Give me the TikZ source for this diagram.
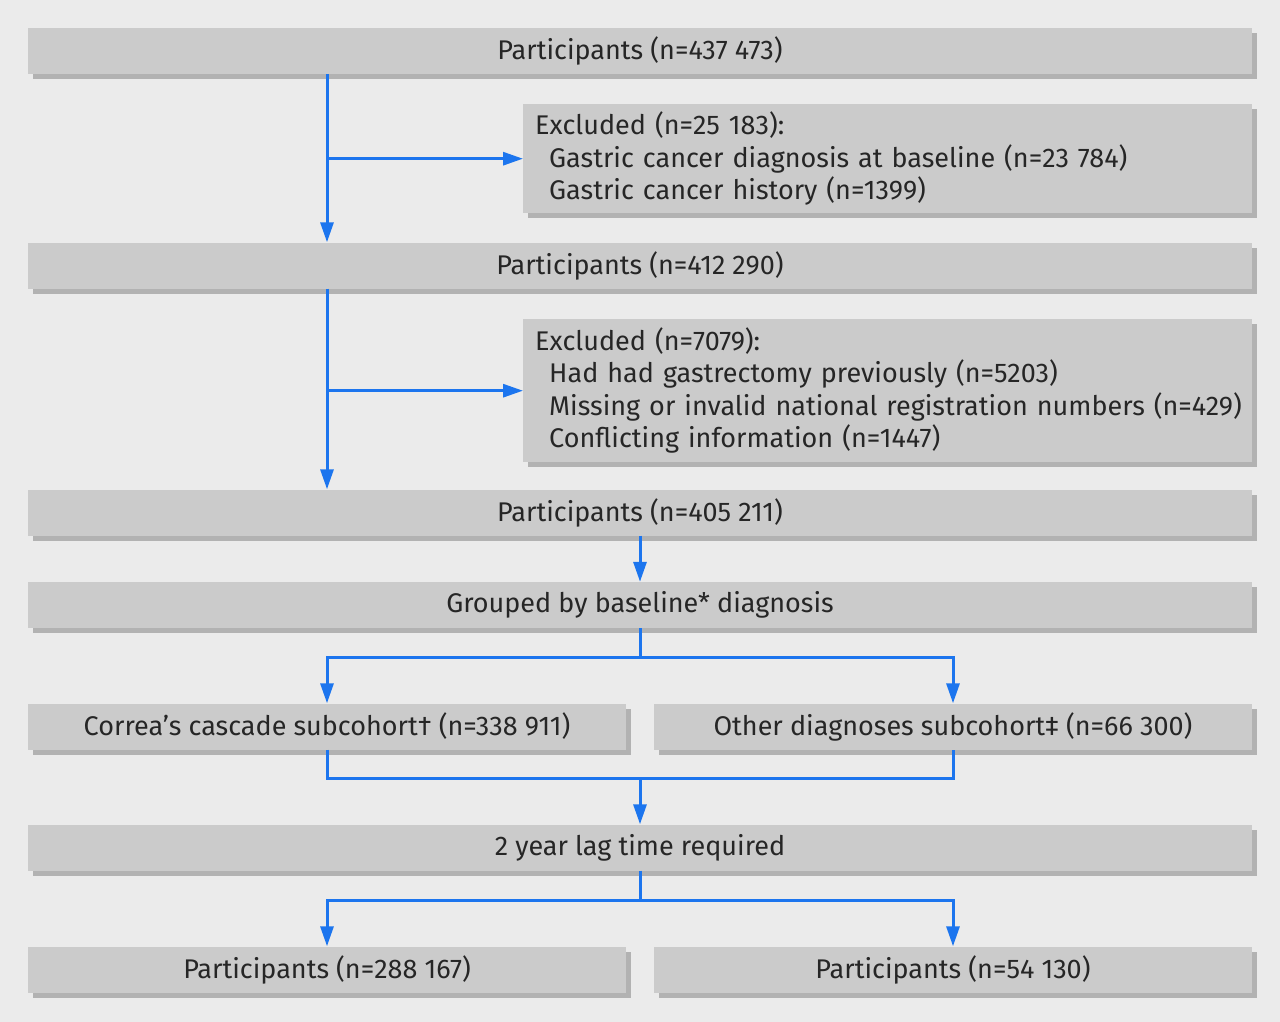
\documentclass[tikz,border=0pt]{standalone}
\usepackage{fontspec}
\setmainfont{Fira Sans}
\usetikzlibrary{arrows.meta,shadows,positioning}
\definecolor{bggray}{HTML}{EBEBEB}
\definecolor{boxgray}{HTML}{CBCBCB}
\definecolor{shgray}{HTML}{B2B2B2}
\definecolor{flowblue}{RGB}{28,117,238}
\tikzset{
  box/.style={fill=boxgray, minimum height=46pt, inner sep=0pt, text=black!85,
    font=\fontsize{27}{32.5}\selectfont,
    drop shadow={shadow xshift=5pt, shadow yshift=-5pt, fill=shgray, opacity=1}},
  wide/.style={box, minimum width=1224pt},
  half/.style={box, minimum width=598pt},
  exbox/.style={box, anchor=north west, minimum width=729pt, text width=711pt, inner xsep=9pt, align=left},
  ln/.style={draw=flowblue, line width=3pt},
  arr/.style={ln, -{Triangle[length=20pt,width=13pt]}}
}
\newcommand{\ind}{\hspace*{17pt}}
\begin{document}
\begin{tikzpicture}[x=1pt,y=-1pt]
\fill[bggray] (0,0) rectangle (1280,1022);
\useasboundingbox (0,0) rectangle (1280,1022);
% boxes
\node[wide] (p1) at (640,51) {Participants (n=437 473)};
\node[exbox, minimum height=109pt] (ex1) at (523,104) {\hspace*{3pt}Excluded (n=25 183):\\
  \ind Gastric cancer diagnosis at baseline (n=23 784)\\
  \ind Gastric cancer history (n=1399)};
\node[wide] (p2) at (640,265.5) {Participants (n=412 290)};
\node[exbox, minimum height=143pt] (ex2) at (523,319) {\hspace*{3pt}Excluded (n=7079):\\
  \ind Had had gastrectomy previously (n=5203)\\
  \ind Missing or invalid national registration numbers (n=429)\\
  \ind Conflicting information (n=1447)};
\node[wide] (p3) at (640,512.5) {Participants (n=405 211)};
\node[wide] (grp) at (640,605) {Grouped by baseline* diagnosis};
\node[half] (s1) at (327,726.5) {Correa’s cascade subcohort† (n=338 911)};
\node[half] (s2) at (953,726.5) {Other diagnoses subcohort‡ (n=66 300)};
\node[wide] (lag) at (640,847.5) {2 year lag time required};
\node[half] (q1) at (327,969.5) {Participants (n=288 167)};
\node[half] (q2) at (953,969.5) {Participants (n=54 130)};
% connectors
\path (grp.south) ++(0,29) coordinate (g)
      (s1.south) ++(0,29) coordinate (m1)
      (s2.south) ++(0,29) coordinate (m2)
      (lag.south) ++(0,30) coordinate (l);
\draw[arr] (p1.south -| s1) -- (p2.north -| s1);
\draw[arr] (ex1.west -| s1) -- (ex1.west);
\draw[arr] (p2.south -| s1) -- (p3.north -| s1);
\draw[arr] (ex2.west -| s1) -- (ex2.west);
\draw[arr] (p3) -- (grp);
\draw[ln] (grp.south) -- (g);
\foreach \x in {s1,s2}
  \draw[arr] (g) -| (\x.north);
\draw[ln] (s1.south) -- (m1) -- (m2) -- (s2.south);
\draw[arr] (m1 -| lag) -- (lag.north);
\draw[ln] (lag.south) -- (l);
\foreach \x in {q1,q2}
  \draw[arr] (l) -| (\x.north);
\end{tikzpicture}
\end{document}
